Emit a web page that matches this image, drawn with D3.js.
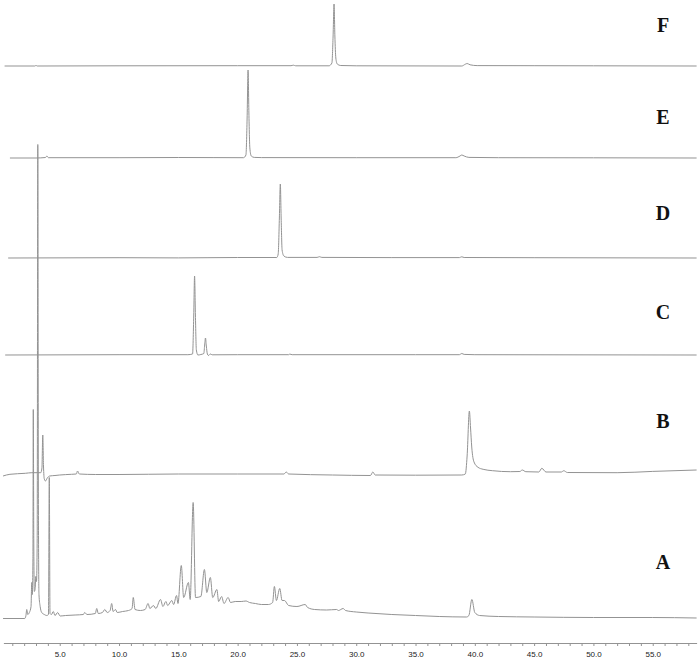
<!DOCTYPE html>
<html>
<head>
<meta charset="utf-8">
<script src="https://cdn.jsdelivr.net/npm/d3@7/dist/d3.min.js"></script>
<style>
  html, body { margin: 0; padding: 0; background: #fff; }
  svg { display: block; }
</style>
</head>
<body>
<div id="chart"></div>
<script>
// ---------------- DATA ----------------
// Sample labels (top to bottom)
const sampleLabels = ["F", "E", "D", "C", "B", "A"];

// Retention-time axis tick labels (min)
const majorTicks = [5, 10, 15, 20, 25, 30, 35, 40, 45, 50, 55];
const minorTicks = d3.range(1, 59);

// Chromatogram traces: [retention time (min), signal (relative units)]
const traceF = [[0.35,0],[2.9,0],[3.0,0.6],[3.1,0],[10,0.2],[20,0.3],[24.5,0.3],[24.7,0.8],[24.9,0.2],[27.7,0.2],[27.95,3],[28.05,30],[28.13,62],[28.2,30],[28.28,8],[28.4,2],[28.7,0.5],[30,0.2],[38.9,0],[39.2,1.8],[39.35,2.5],[39.6,1.2],[40.2,0.4],[45,0.3],[50,0.2],[58.7,0]];

const traceE = [[0.8,0],[3.0,0],[3.8,0.5],[3.92,2],[4.05,0.3],[10,0.3],[15,0.5],[18,0.4],[20.5,0.3],[20.7,3],[20.8,40],[20.88,88],[20.95,45],[21.03,10],[21.15,2],[21.4,0.6],[22,0.4],[30,0.3],[38.4,0.3],[38.75,2],[38.9,3],[39.1,2],[39.5,0.6],[42,0.3],[50,0.2],[58.7,0]];

const traceD = [[0.65,0],[10,0.3],[15,0.1],[20,0.5],[23.3,0.5],[23.42,4],[23.52,40],[23.6,74],[23.67,40],[23.75,8],[23.9,2],[24.2,0.6],[26.7,0.6],[26.9,1.3],[27.1,0.6],[33,0.4],[38.7,0.4],[38.9,1.2],[39.1,0.5],[45,0.3],[58.7,0]];

const traceC = [[0.4,0],[10,0.3],[15.8,0.3],[16.2,1],[16.3,40],[16.37,79],[16.44,40],[16.52,5],[16.65,0],[16.9,0.5],[17.15,1.5],[17.22,10],[17.29,17],[17.36,9],[17.45,1],[17.55,-0.5],[17.7,1],[17.85,0.2],[20,0.3],[24.3,0.3],[24.4,0.9],[24.6,0.3],[35,0.3],[38.7,0.3],[38.9,1.5],[39.1,0.6],[40,0.3],[58.7,0]];

const traceB = [[0.22,0],[0.8,1.7],[2.1,2.7],[2.65,3.3],[3.4,3.3],[3.5,8],[3.57,41],[3.63,10],[3.7,-3],[3.8,-5],[3.95,-2],[4.15,0],[4.6,0.5],[5.0,1],[6.0,1.7],[6.4,2],[6.5,5],[6.65,2],[8,1.5],[10,1.5],[15,2],[20,2],[23.9,2],[24.1,4],[24.3,2],[28,1],[31.2,0.5],[31.4,4],[31.6,1],[35,0.8],[38.9,1],[39.2,2],[39.35,20],[39.54,65],[39.64,48],[39.74,29],[39.93,14],[40.27,8.7],[40.7,6.7],[41.5,5.3],[43,4.3],[43.8,4.5],[44.0,6],[44.3,4.3],[45.4,4],[45.65,7.7],[46.0,4],[47.3,4],[47.5,5.3],[47.8,3.5],[52,3.3],[55,4.6],[58.7,6]];

const traceA = [[0.22,0],[2.05,0],[2.15,3],[2.22,9],[2.3,4],[2.44,6],[2.58,12],[2.64,36],[2.69,24],[2.74,60],[2.77,209],[2.81,80],[2.86,27],[2.93,30],[2.98,42],[3.04,37],[3.1,80],[3.15,474],[3.2,120],[3.25,24],[3.35,12],[3.48,6],[3.7,4],[3.9,3],[4.05,4],[4.12,141],[4.18,5],[4.3,4],[4.46,7],[4.6,3],[4.83,6],[5.03,2.5],[5.5,3],[6.3,3.5],[7.0,4],[7.1,6],[7.3,4],[8.0,5],[8.12,10],[8.25,5],[8.6,6],[8.8,9],[9.0,6],[9.25,8],[9.38,15],[9.5,7],[9.7,9],[9.85,6],[10.3,7],[10.8,8],[11.1,10],[11.2,21],[11.35,9],[11.8,8],[12.2,9],[12.45,15],[12.6,10],[12.9,13],[13.1,10],[13.5,19],[13.7,12],[13.95,17],[14.1,13],[14.45,18],[14.6,14],[14.85,23],[14.97,15],[15.25,53],[15.45,21],[15.85,36],[16.0,19],[16.25,116],[16.45,21],[16.9,22],[17.2,49],[17.4,26],[17.7,41],[17.9,21],[18.25,29],[18.4,17],[18.65,22],[18.85,15],[19.2,21],[19.4,16],[19.8,17],[20.3,17],[20.7,17.5],[21.0,16],[21.5,15],[22.0,14],[22.6,14],[22.95,16],[23.1,32],[23.27,18],[23.55,30],[23.75,18],[23.95,18],[24.3,13],[25.0,12],[25.7,14],[25.9,11],[26.5,9],[27.5,8.5],[28.35,9],[28.5,8],[28.9,10],[29.1,8],[30,6.5],[31,5.5],[33,4],[35,3],[37,2],[39.3,1.5],[39.5,3],[39.75,19],[40.0,6],[40.4,3],[42,2],[45,1.5],[50,1],[55,1],[58.7,0.5]];

const traces = [traceF, traceE, traceD, traceC, traceB, traceA];

// ---------------- LAYOUT ----------------
const W = 699, H = 659;
const axisY = 643;
const traceBaselines = [66, 158, 258, 355, 476, 618.5];
const labelCenters = [25, 117, 213, 312, 421, 562];
const labelX = 663;

const svg = d3.select("#chart").append("svg")
  .attr("width", W).attr("height", H)
  .style("background", "#fff");

const x = d3.scaleLinear().domain([0.25, 58.7]).range([3.4, 696.6]);
const ySig = d3.scaleLinear().domain([0, 500]).range([0, -500]);

const line = d3.line()
  .x(d => x(d[0]))
  .y(d => ySig(d[1]))
  .curve(d3.curveMonotoneX);

// Traces
traces.forEach((tr, i) => {
  svg.append("g")
    .attr("transform", `translate(0,${traceBaselines[i]})`)
    .append("path")
    .datum(tr)
    .attr("d", line)
    .attr("fill", "none")
    .attr("stroke", "#939393")
    .attr("stroke-width", 1)
    .attr("stroke-linejoin", "round");
});

// Sample labels
svg.selectAll("text.sample")
  .data(sampleLabels)
  .join("text")
  .attr("class", "sample")
  .attr("x", labelX)
  .attr("y", (d, i) => labelCenters[i])
  .attr("dy", "0.35em")
  .attr("text-anchor", "middle")
  .attr("font-family", "'Liberation Serif', 'Times New Roman', serif")
  .attr("font-weight", "bold")
  .attr("font-size", 20)
  .attr("fill", "#111")
  .text(d => d);

// X axis
const axis = d3.axisBottom(x)
  .tickValues(minorTicks)
  .tickSize(3)
  .tickSizeOuter(0)
  .tickPadding(5.5)
  .tickFormat(d => majorTicks.includes(d) ? d3.format(".1f")(d) : "");

const gAxis = svg.append("g")
  .attr("transform", `translate(0,${axisY})`)
  .call(axis);

gAxis.select(".domain").attr("stroke", "#939393");
gAxis.selectAll(".tick line").attr("stroke", "#939393");
gAxis.selectAll(".tick text")
  .attr("font-family", "'Liberation Sans', Arial, sans-serif")
  .attr("font-size", 8)
  .attr("fill", "#222");
</script>
</body>
</html>
